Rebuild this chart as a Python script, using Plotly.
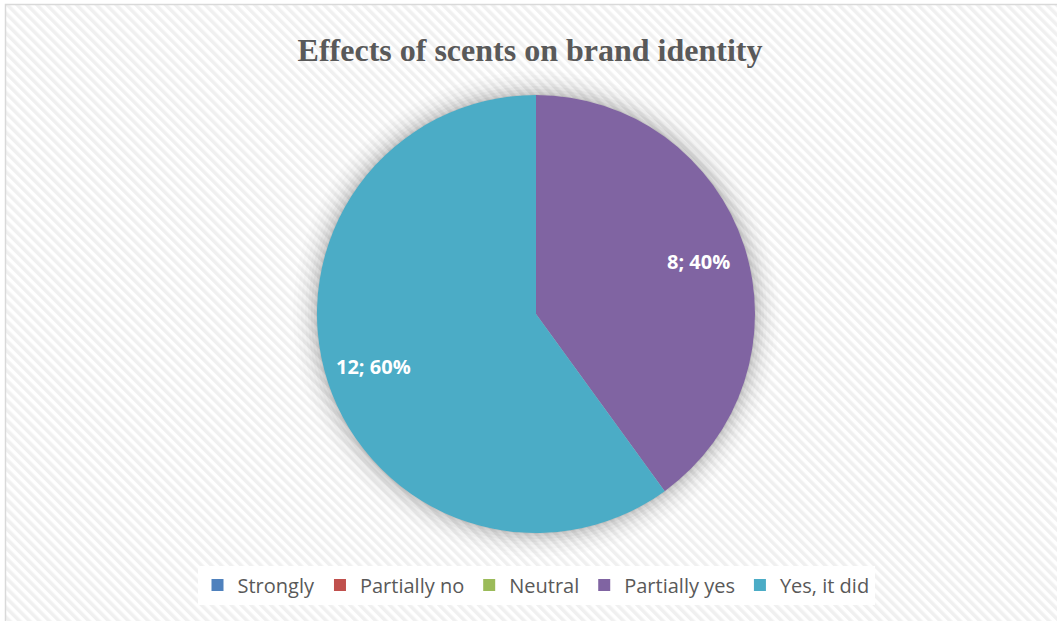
import base64
import math
import plotly.graph_objects as go

# ---- data ----
categories = ["Strongly", "Partially no", "Neutral", "Partially yes", "Yes, it did"]
values = [0, 0, 0, 8, 12]
colors = ["#4F81BD", "#C0504D", "#9BBB59", "#8064A2", "#4BACC6"]
title_text = "Effects of scents on brand identity"

W, H = 1057, 621

# background hatch + frame (decoration)
svg = f'''<svg xmlns="http://www.w3.org/2000/svg" width="{W}" height="{H}">
<defs><pattern id="p" width="7" height="7" patternUnits="userSpaceOnUse" patternTransform="rotate(-45)">
<rect width="7" height="7" fill="#ffffff"/><rect width="3.5" height="7" fill="#f0f0f0"/></pattern></defs>
<rect width="{W}" height="{H}" fill="#ffffff"/>
<rect x="6" y="5" width="{W}" height="{H}" fill="url(#p)"/>
<path d="M5.5 {H} L5.5 4.5 L{W} 4.5" fill="none" stroke="#d9d9d9" stroke-width="1.5"/>
</svg>'''
bg_src = "data:image/svg+xml;base64," + base64.b64encode(svg.encode()).decode()

# pie geometry in pixels
cx, cy, r = 536, 314, 219
dom_x = [(cx - r) / W, (cx + r) / W]
dom_y = [(H - cy - r) / H, (H - cy + r) / H]

fig = go.Figure(go.Pie(
    labels=categories,
    values=values,
    marker=dict(colors=colors, line=dict(width=0)),
    sort=False,
    direction="clockwise",
    rotation=0,
    textinfo="none",
    hoverinfo="label+value+percent",
    domain=dict(x=dom_x, y=dom_y),
))

# data labels placed along each slice's bisector (derived from values)
total = sum(values)
annotations = []
start = 90.0
for lab, v in zip(categories, values):
    sweep = 360.0 * v / total
    if v > 0:
        mid = math.radians(start - sweep / 2)
        rf = 0.78
        px = cx + rf * r * math.cos(mid)
        py = cy - rf * r * math.sin(mid)
        annotations.append(dict(
            text="<b>%d; %d%%</b>" % (v, round(100 * v / total)),
            x=px / W, y=(H - py) / H, xref="paper", yref="paper",
            showarrow=False, xanchor="center", yanchor="middle",
            font=dict(family="Open Sans", size=20, color="white"),
        ))
    start -= sweep

# soft shadow halo behind the pie
shapes = []
for extra, op in [(24, 0.012), (20, 0.015), (16, 0.02), (12, 0.025), (9, 0.03), (6, 0.035), (3, 0.04), (1, 0.05)]:
    rr = r + extra
    shapes.append(dict(
        type="circle", xref="paper", yref="paper", layer="below",
        x0=(cx - rr) / W, x1=(cx + rr) / W,
        y0=(H - cy - rr) / H, y1=(H - cy + rr) / H,
        fillcolor="rgba(0,0,0,%.3f)" % op, line=dict(width=0),
    ))

fig.update_layout(
    width=W, height=H,
    margin=dict(l=0, r=0, t=0, b=0),
    paper_bgcolor="white",
    title=dict(text="<b>" + title_text + "</b>", x=530 / W, xanchor="center",
               y=1 - 50 / H, yanchor="middle",
               font=dict(family="Liberation Serif", size=32, color="#595959")),
    legend=dict(orientation="h", x=536 / W, xanchor="center", y=36 / H, yanchor="middle",
                bgcolor="white", font=dict(family="Open Sans", size=20, color="#595959"),
                itemclick=False),
    images=[dict(source=bg_src, xref="paper", yref="paper", x=0, y=1, sizex=1, sizey=1,
                 xanchor="left", yanchor="top", sizing="stretch", layer="below")],
    shapes=shapes,
    annotations=annotations,
)

fig.write_html("out.html", config={"displayModeBar": False},
               post_script="document.body.style.margin='0';document.body.style.padding='0';")
